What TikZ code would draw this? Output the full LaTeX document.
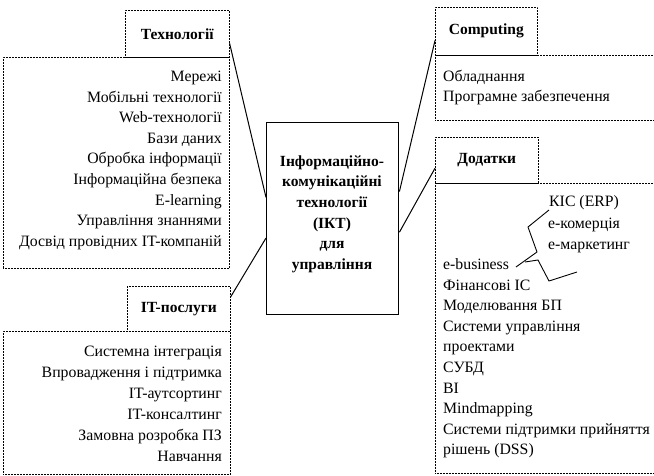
\documentclass[tikz,border=0pt]{standalone}
\usepackage{fontspec}
\setmainfont{Liberation Serif}
\usetikzlibrary{calc}
\begin{document}
\begin{tikzpicture}[x=1pt,y=-1pt,
  dotbox/.style={draw, line width=0.6pt, dash pattern=on 0.6pt off 0.9pt, inner sep=0pt, anchor=north west},
  titlebox/.style={dotbox, font=\fontsize{15.5}{18}\selectfont\bfseries},
  item/.style={inner sep=0pt, font=\fontsize{15.8}{18}\selectfont},
  link/.style={line width=1pt}]
\useasboundingbox (0,0) rectangle (654,475);

% left top
\node[titlebox, minimum width=104pt, minimum height=47pt] (tech) at (125,10) {Технології};
\node[dotbox, minimum width=226pt, minimum height=211pt] (techlist) at (3,57) {};
\foreach \t [count=\i] in {Мережі, Мобільні технології, Web-технології, Бази даних, Обробка інформації, Інформаційна безпека, E-learning, Управління знаннями, Досвід провідних IT-компаній}
  \node[item, anchor=base east] (tl\i) at (222,{81.5+20.6*(\i-1)}) {\t};

% left bottom
\node[titlebox, minimum width=103pt, minimum height=45pt] (its) at (127,286) {IT-послуги};
\node[dotbox, minimum width=227pt, minimum height=143pt] (itslist) at (3,331) {};
\foreach \t [count=\i] in {Системна інтеграція, Впровадження і підтримка, IT-аутсортинг, IT-консалтинг, Замовна розробка ПЗ, Навчання}
  \node[item, anchor=base east] (il\i) at (222,{356.5+21*(\i-1)}) {\t};

% centre
\node[draw, line width=1.4pt, minimum width=132pt, minimum height=192pt, anchor=north west, inner sep=0pt] (ict) at (266,122) {};
\node[inner sep=0pt, align=center, font=\fontsize{15.5}{20.6}\selectfont\bfseries] (ictt) at (332,214)
  {Інформаційно-\\комунікаційні\\технології\\(ІКТ)\\для\\управління};

% right top
\node[titlebox, minimum width=102pt, minimum height=48pt] (comp) at (435,7) {Computing};
\node[dotbox, minimum width=230pt, minimum height=65pt] (complist) at (435,55) {};
\node[item, anchor=base west] (cl1) at (443,81.5) {Обладнання};
\node[item, anchor=base west] (cl2) at (443,101.5) {Програмне забезпечення};

% right bottom
\node[titlebox, minimum width=103pt, minimum height=46pt] (dod) at (435,137) {Додатки};
\node[dotbox, minimum width=230pt, minimum height=290pt] (dodlist) at (435,183) {};
\node[item, anchor=base west] (k1) at (549,206.5) {КІС (ERP)};
\node[item, anchor=base west] (k2) at (548,228) {e-комерція};
\node[item, anchor=base west] (k3) at (548,249.5) {e-маркетинг};
\foreach \t [count=\i] in {e-business, Фінансові ІС, Моделювання БП, Системи управління, проектами, СУБД, BI, Mindmapping, Системи підтримки прийняття, рішень (DSS)}
  \node[item, anchor=base west] (dl\i) at (443,{269.5+20.6*(\i-1)}) {\t};

% hand-drawn brace
\draw[line width=0.9pt, line join=round] (549,210) -- (528,227) -- (537,252) -- (516,267);
\draw[line width=0.9pt, line join=round] (525,262) -- (538,260) -- (549,281) -- (577,272);

% connectors
\draw[link] ($(tech.north east)!0.70!(tech.south east)$) -- ($(ict.north west)!0.39!(ict.south west)$);
\draw[link] ($(its.north east)!0.24!(its.south east)$) -- ($(ict.north west)!0.60!(ict.south west)$);
\draw[link] ($(comp.north west)!0.69!(comp.south west)$) -- ($(ict.north east)!0.36!(ict.south east)$);
\draw[link] ($(dod.north west)!0.67!(dod.south west)$) -- ($(ict.north east)!0.57!(ict.south east)$);
\end{tikzpicture}
\end{document}
